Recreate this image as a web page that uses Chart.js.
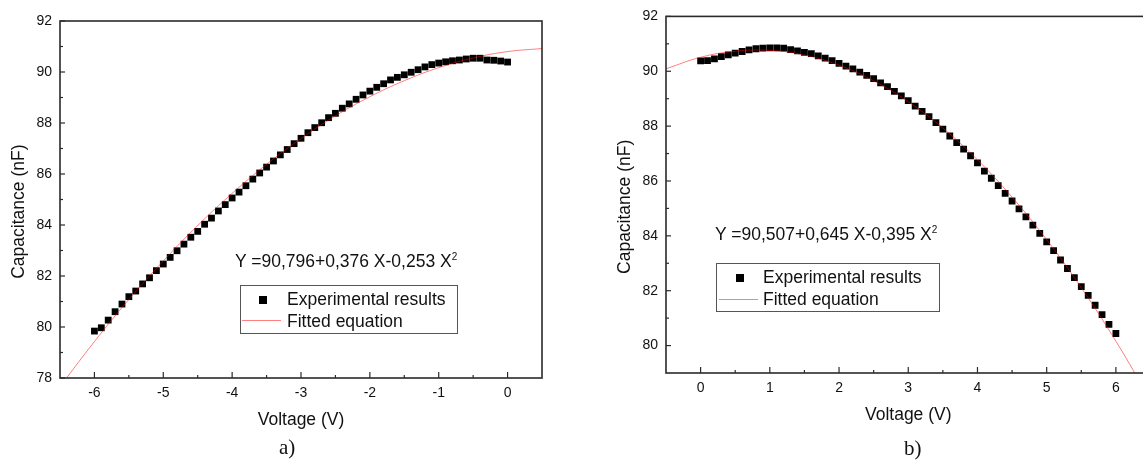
<!DOCTYPE html>
<html lang="en">
<head>
<meta charset="UTF-8">
<title>Capacitance vs Voltage</title>
<script src="https://cdn.jsdelivr.net/npm/chart.js@4.4.1/dist/chart.umd.min.js"></script>
<style>
  html, body { margin: 0; padding: 0; background: #fff; }
  body { width: 1143px; height: 465px; overflow: hidden; position: relative;
         font-family: "Liberation Sans", Arial, sans-serif; color: #111; }
  canvas { position: absolute; top: 0; }
  #chartA { left: 0; }
  #chartB { left: 580px; }
  .eq { position: absolute; font-size: 17.5px; line-height: 17.5px; white-space: nowrap; }
  .eq sup { font-size: 10px; line-height: 0; vertical-align: 7px; }
  .legend { position: absolute; border: 1px solid #555; background: #fff; box-sizing: border-box; }
  .legend .mk { position: absolute; width: 8px; height: 8px; background: #000; }
  .legend .ln { position: absolute; height: 1px; width: 39px; background: rgba(255,0,0,0.5); }
  .legend .tx { position: absolute; font-size: 17.5px; line-height: 17.5px; white-space: nowrap; }
  .cap { position: absolute; font-family: "Liberation Serif", "Times New Roman", serif; font-size: 21px; line-height: 21px; }
</style>
</head>
<body>
<canvas id="chartA" width="560" height="440"></canvas>
<canvas id="chartB" width="590" height="440"></canvas>

<div class="eq" style="left:235px; top:253px;">Y =90,796+0,376 X-0,253 X<sup>2</sup></div>
<div class="legend" style="left:240px; top:285px; width:218px; height:49px;">
  <div class="mk" style="left:18px; top:10px;"></div>
  <div class="tx" style="left:46px; top:5px;">Experimental results</div>
  <div class="ln" style="left:1px; top:34px;"></div>
  <div class="tx" style="left:46px; top:27px;">Fitted equation</div>
</div>
<div class="cap" style="left:279px; top:437px;">a)</div>

<div class="eq" style="left:715px; top:226px;">Y =90,507+0,645 X-0,395 X<sup>2</sup></div>
<div class="legend" style="left:716px; top:263px; width:224px; height:49px;">
  <div class="mk" style="left:19px; top:10px;"></div>
  <div class="tx" style="left:46px; top:5px;">Experimental results</div>
  <div class="ln" style="left:2px; top:35px;"></div>
  <div class="tx" style="left:46px; top:27px;">Fitted equation</div>
</div>
<div class="cap" style="left:904px; top:438px;">b)</div>

<script>
// ---- chart a) : negative bias ----
const voltageA = [-6.0,-5.9,-5.8,-5.7,-5.6,-5.5,-5.4,-5.3,-5.2,-5.1,-5.0,-4.9,-4.8,-4.7,-4.6,-4.5,-4.4,-4.3,-4.2,-4.1,
                  -4.0,-3.9,-3.8,-3.7,-3.6,-3.5,-3.4,-3.3,-3.2,-3.1,-3.0,-2.9,-2.8,-2.7,-2.6,-2.5,-2.4,-2.3,-2.2,-2.1,
                  -2.0,-1.9,-1.8,-1.7,-1.6,-1.5,-1.4,-1.3,-1.2,-1.1,-1.0,-0.9,-0.8,-0.7,-0.6,-0.5,-0.4,-0.3,-0.2,-0.1,0.0];
const capA = [79.84,79.97,80.27,80.60,80.90,81.19,81.41,81.69,81.93,82.21,82.47,82.73,82.99,83.25,83.52,83.75,84.03,84.27,84.55,84.80,
              85.06,85.29,85.54,85.80,86.04,86.27,86.51,86.75,86.96,87.19,87.40,87.62,87.82,88.01,88.21,88.38,88.58,88.75,88.93,89.10,
              89.25,89.40,89.54,89.69,89.79,89.89,89.99,90.09,90.20,90.29,90.35,90.40,90.44,90.47,90.51,90.54,90.54,90.47,90.46,90.43,90.39];
const fitVoltageA = [-6.5,-6.0,-5.5,-5.0,-4.5,-4.0,-3.5,-3.0,-2.5,-2.0,-1.5,-1.0,-0.5,0.0,0.5];
const fitCapA = [77.66,79.43,81.08,82.59,83.98,85.24,86.38,87.39,88.28,89.03,89.66,90.17,90.55,90.80,90.92];
const xTicksA = [-6,-5,-4,-3,-2,-1,0];
const yTicksA = [78,80,82,84,86,88,90,92];

// ---- chart b) : positive bias ----
const voltageB = [0.0,0.1,0.2,0.3,0.4,0.5,0.6,0.7,0.8,0.9,1.0,1.1,1.2,1.3,1.4,1.5,1.6,1.7,1.8,1.9,
                  2.0,2.1,2.2,2.3,2.4,2.5,2.6,2.7,2.8,2.9,3.0,3.1,3.2,3.3,3.4,3.5,3.6,3.7,3.8,3.9,
                  4.0,4.1,4.2,4.3,4.4,4.5,4.6,4.7,4.8,4.9,5.0,5.1,5.2,5.3,5.4,5.5,5.6,5.7,5.8,5.9,6.0];
const capB = [90.38,90.39,90.45,90.53,90.60,90.66,90.72,90.78,90.82,90.84,90.85,90.85,90.84,90.79,90.74,90.69,90.64,90.56,90.48,90.39,
              90.29,90.19,90.09,89.97,89.85,89.73,89.58,89.44,89.27,89.10,88.93,88.73,88.54,88.35,88.13,87.89,87.64,87.40,87.16,86.92,
              86.66,86.36,86.10,85.83,85.55,85.27,84.98,84.69,84.39,84.09,83.78,83.46,83.12,82.81,82.48,82.15,81.83,81.47,81.13,80.77,80.44];
const fitVoltageB = [-0.5,0.0,0.5,1.0,1.5,2.0,2.5,3.0,3.5,4.0,4.5,5.0,5.5,6.0,6.5];
const fitCapB = [90.09,90.51,90.73,90.76,90.59,90.22,89.65,88.89,87.93,86.77,85.41,83.86,82.11,80.16,78.01];
const xTicksB = [0,1,2,3,4,5,6];
const yTicksB = [80,82,84,86,88,90,92];

Chart.defaults.font.family = '"Liberation Sans", Arial, sans-serif';
Chart.defaults.color = '#111';

// box frame + inward major/minor ticks, like the Origin plot
const frameTicks = {
  id: 'frameTicks',
  afterDraw(chart, args, opts) {
    const {ctx, chartArea: {left, top, right, bottom}, scales: {x, y}} = chart;
    ctx.save();
    ctx.strokeStyle = '#2a2a2a';
    ctx.lineWidth = 1.6;
    ctx.strokeRect(left, top, right - left, bottom - top);
    ctx.lineWidth = 1.2;
    const seg = (x1, y1, x2, y2) => { ctx.beginPath(); ctx.moveTo(x1, y1); ctx.lineTo(x2, y2); ctx.stroke(); };
    const xs = x.ticks.map(t => t.value), ys = y.ticks.map(t => t.value);
    xs.forEach((v, i) => {
      const px = x.getPixelForValue(v);
      seg(px, bottom, px, bottom - 6);
      if (i > 0) { const m = x.getPixelForValue((v + xs[i - 1]) / 2); seg(m, bottom, m, bottom - 3); }
    });
    ys.forEach((v, i) => {
      const py = y.getPixelForValue(v);
      seg(left, py, left + 5, py);
      if (i > 0) { const m = y.getPixelForValue((v + ys[i - 1]) / 2); seg(left, m, left + 3, m); }
    });
    ctx.restore();
  }
};

function makeChart(id, volts, caps, fitV, fitC, o) {
  return new Chart(document.getElementById(id), {
    type: 'scatter',
    data: {
      datasets: [{
        label: 'Fitted equation',
        data: fitV.map((v, i) => ({x: v, y: fitC[i]})),
        showLine: true,
        borderColor: 'rgba(255,0,0,0.5)',
        borderWidth: 1,
        pointRadius: 0,
        tension: 0.4,
        order: 0
      }, {
        label: 'Experimental results',
        data: volts.map((v, i) => ({x: v, y: caps[i]})),
        pointStyle: 'rect',
        pointRadius: 4.8,
        pointBorderWidth: 0,
        backgroundColor: '#000',
        borderColor: '#000',
        order: 1
      }]
    },
    options: {
      responsive: false,
      animation: false,
      devicePixelRatio: 1,
      layout: { padding: o.pad },
      plugins: { legend: { display: false }, tooltip: { enabled: false } },
      scales: {
        x: {
          type: 'linear', min: o.xmin, max: o.xmax,
          afterBuildTicks: s => { s.ticks = o.xt.map(v => ({value: v})); },
          afterFit: s => { s.height = o.xh; },
          grid: { display: false, drawTicks: false }, border: { display: false },
          ticks: { font: { size: 14 }, color: '#111', padding: o.xtp, callback: v => String(v) },
          title: { display: true, text: 'Voltage (V)', font: { size: 17.5 }, color: '#111',
                   padding: { top: 0, bottom: o.xtitle } }
        },
        y: {
          type: 'linear', min: o.ymin, max: o.ymax,
          afterBuildTicks: s => { s.ticks = o.yt.map(v => ({value: v})); },
          afterFit: s => { s.width = o.yw; },
          grid: { display: false, drawTicks: false }, border: { display: false },
          ticks: { font: { size: 14 }, color: '#111', padding: 8, callback: v => String(v) },
          title: { display: true, text: 'Capacitance (nF)     ', font: { size: 17.5 }, color: '#111',
                   padding: { top: o.ytitle, bottom: 0 } }
        }
      }
    },
    plugins: [frameTicks]
  });
}

makeChart('chartA', voltageA, capA, fitVoltageA, fitCapA, {
  pad: { top: 21, right: 18, left: 0, bottom: 0 },
  xmin: -6.5, xmax: 0.5, ymin: 78, ymax: 92, xt: xTicksA, yt: yTicksA,
  xh: 62, yw: 60, xtp: 6.5, xtitle: 9.5, ytitle: 8.5
});

makeChart('chartB', voltageB, capB, fitVoltageB, fitCapB, {
  pad: { top: 14.7, right: 19.5, left: 0, bottom: 0 },
  xmin: -0.5, xmax: 6.5, ymin: 79, ymax: 92, xt: xTicksB, yt: yTicksB,
  xh: 67, yw: 86, xtp: 7, xtitle: 14.5, ytitle: 34.5
});
</script>
</body>
</html>
